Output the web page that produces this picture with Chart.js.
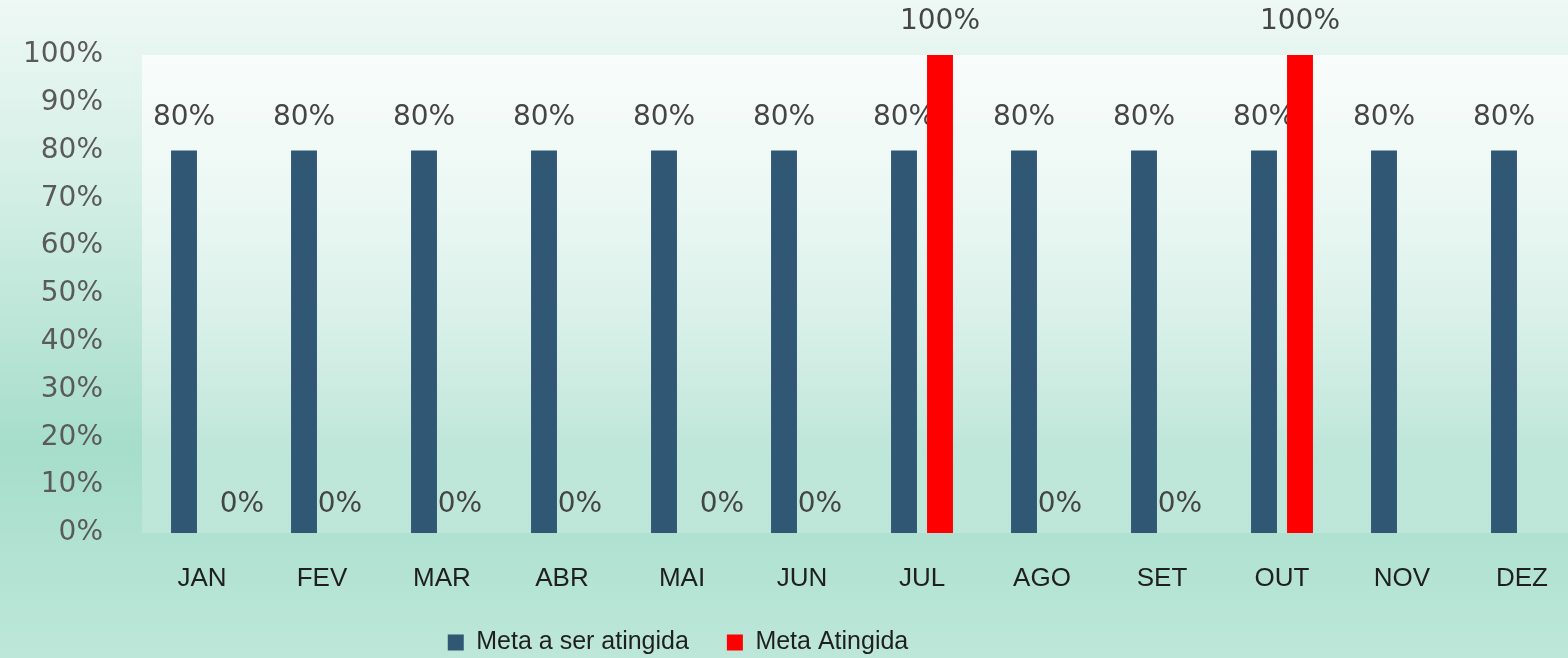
<!DOCTYPE html>
<html>
<head>
<meta charset="utf-8">
<script src="https://cdn.jsdelivr.net/npm/chart.js@4"></script>
<style>
  html, body { margin: 0; padding: 0; overflow: hidden; background: #cdeee2; }
  #wrap { width: 1600px; height: 658px; }
</style>
</head>
<body>
<div id="wrap"><canvas id="metaChart"></canvas></div>
<script>
// Valores
var months = ['JAN', 'FEV', 'MAR', 'ABR', 'MAI', 'JUN', 'JUL', 'AGO', 'SET', 'OUT', 'NOV', 'DEZ'];
var metaSerAtingida = [80, 80, 80, 80, 80, 80, 80, 80, 80, 80, 80, 80];
var metaAtingida = [0, 0, 0, 0, 0, 0, 100, 0, 0, 100, null, null];
var yTicks = [0, 10, 20, 30, 40, 50, 60, 70, 80, 90, 100];

// fundo em gradiente (canvas inteiro + área do gráfico mais clara)
var backgroundPlugin = {
    id: 'bgGradient',
    beforeDraw: function (chart) {
        var ctx = chart.ctx;
        var g = ctx.createLinearGradient(0, 0, 0, chart.height);
        g.addColorStop(0, '#eef8f4');
        g.addColorStop(0.3, '#d2eee5');
        g.addColorStop(0.68, '#a6ddcb');
        g.addColorStop(1, '#bde7d9');
        ctx.save();
        ctx.fillStyle = g;
        ctx.fillRect(0, 0, chart.width, chart.height);
        var a = chart.chartArea;
        var p = ctx.createLinearGradient(0, a.top, 0, a.bottom);
        p.addColorStop(0, 'rgba(255,255,255,0.72)');
        p.addColorStop(1, 'rgba(255,255,255,0.18)');
        ctx.fillStyle = p;
        ctx.fillRect(a.left, a.top, a.right - a.left, a.bottom - a.top);
        ctx.restore();
    }
};

// rótulos de dados desenhados antes das barras (as barras ficam por cima)
var labelsPlugin = {
    id: 'barLabels',
    beforeDatasetsDraw: function (chart, args, opts) {
        var ctx = chart.ctx;
        ctx.save();
        ctx.font = '28px "DejaVu Sans"';
        ctx.fillStyle = '#454545';
        ctx.textAlign = 'center';
        ctx.textBaseline = 'middle';
        chart.data.datasets.forEach(function (ds, di) {
            var meta = chart.getDatasetMeta(di);
            meta.data.forEach(function (bar, i) {
                var v = ds.data[i];
                if (v === null || v === undefined) return;
                var dx = (opts.nudge[di] && opts.nudge[di][i]) || 0;
                var off = v === 0 ? 28 : 33;
                ctx.fillText(v + '%', bar.x + dx, bar.y - off);
            });
        });
        ctx.restore();
    }
};

// desloca a legenda para a esquerda, como no original
var legendShift = {
    id: 'legendShift',
    afterLayout: function (chart) {
        chart.legend.left -= 113;
        chart.legend.right -= 113;
    }
};

var ctx = document.getElementById('metaChart').getContext('2d');
var myChart = new Chart(ctx, {
    type: 'bar',
    data: {
        labels: months,
        datasets: [
            {
                label: 'Meta a ser atingida',
                data: metaSerAtingida,
                backgroundColor: '#305773',
                categoryPercentage: 0.6,
                barPercentage: 0.72
            },
            {
                label: 'Meta Atingida',
                data: metaAtingida,
                backgroundColor: '#ff0000',
                categoryPercentage: 0.6,
                barPercentage: 0.72
            }
        ]
    },
    options: {
        responsive: true,
        maintainAspectRatio: false,
        animation: false,
        layout: {
            padding: { top: 55, right: 18, left: 0, bottom: -7 }
        },
        scales: {
            x: {
                grid: { display: false },
                border: { display: false },
                ticks: {
                    color: '#1f1f1f',
                    padding: 22,
                    font: { family: 'Liberation Sans', size: 26 }
                },
                afterFit: function (s) { s.height = 59; }
            },
            y: {
                min: 0,
                max: 100,
                grid: { display: false },
                border: { display: false },
                afterBuildTicks: function (s) {
                    s.ticks = yTicks.map(function (v) { return { value: v }; });
                },
                ticks: {
                    color: '#5a5a5a',
                    padding: 31,
                    font: { family: 'DejaVu Sans', size: 28 },
                    callback: function (v) { return v + '%'; }
                },
                afterFit: function (s) { s.width = 142; }
            }
        },
        plugins: {
            legend: {
                display: true,
                position: 'bottom',
                labels: {
                    color: '#1f1f1f',
                    boxWidth: 16,
                    boxHeight: 16,
                    padding: 38,
                    font: { family: 'Liberation Sans', size: 25 }
                }
            },
            title: { display: false },
            tooltip: { enabled: false },
            barLabels: {
                nudge: { 1: { 0: 22, 4: 22 } }
            }
        }
    },
    plugins: [backgroundPlugin, labelsPlugin, legendShift]
});
</script>
</body>
</html>
